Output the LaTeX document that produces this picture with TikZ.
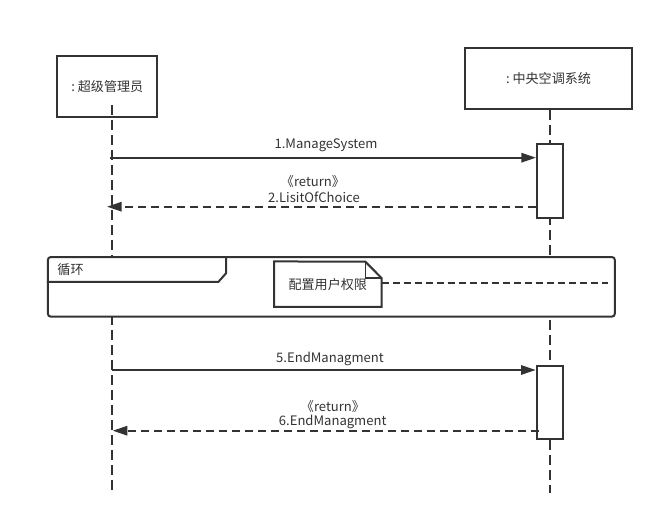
\documentclass[tikz,border=0pt]{standalone}
\usepackage{fontspec}
\setmainfont{Noto Sans CJK SC}
\usetikzlibrary{arrows.meta}
\definecolor{lc}{HTML}{333333}
\begin{document}
\begin{tikzpicture}[x=0.75pt,y=-0.75pt,
  every node/.style={font=\fontsize{9.8pt}{11pt}\selectfont, text=lc},
  objbox/.style={draw=lc, fill=white, line width=1.5pt, inner sep=0pt},
  actbox/.style={draw=lc, fill=white, line width=1.5pt, inner sep=0pt, minimum width=19.5pt, minimum height=55pt},
  lifeline/.style={draw=lc, line width=1.5pt, dash pattern=on 7.5pt off 3.75pt},
  msg/.style={draw=lc, line width=1.5pt, -{Triangle[length=11pt,width=7pt]}},
  retmsg/.style={draw=lc, line width=1.5pt, dash pattern=on 6pt off 3.75pt, -{Triangle[length=11pt,width=7pt]}},
  notelink/.style={draw=lc, line width=1.5pt, dash pattern=on 5.25pt off 3pt},
  framebox/.style={draw=lc, fill=white, line width=1.5pt, rounded corners=2.25pt},
  lbl/.style={inner sep=0pt}
]
\useasboundingbox (0,0) rectangle (664,530);

% objects
\node[objbox, minimum width=75pt, minimum height=45.75pt] (admin) at (107.3,86.2) {:\ 超级管理员};
\node[objbox, minimum width=125.25pt, minimum height=46pt] (sys) at (548.5,78.3) {:\ 中央空调系统};

% lifelines
\coordinate (adminTop) at (111.7,105);
\coordinate (adminBot) at (111.7,493);
\coordinate (sysTop) at (549.7,110);
\coordinate (sysBot) at (549.7,493);
\draw[lifeline] (adminTop) -- (adminBot);
\draw[lifeline] (sysTop) -- (sysBot);

% activation boxes
\node[actbox] (act1) at (550,181) {};
\node[actbox] (act2) at (549.7,402.2) {};

% message 1
\coordinate (m1s) at (109.5,157.7);
\draw[msg] (m1s) -- (act1.west |- m1s);
\node[lbl] (l1) at (326,145) {1.ManageSystem};

% message 2
\coordinate (m2e) at (107,206.7);
\draw[retmsg] (act1.west |- m2e) -- (m2e);
\node[lbl] (l2a) at (313,181.5) {《return》};
\node[lbl] (l2b) at (314,197) {2.LisitOfChoice};

% loop frame
\node[framebox, minimum width=425.25pt, minimum height=44.75pt, inner sep=0pt] (loop) at (331.35,286.85) {};
\draw[draw=lc, line width=1.5pt] (loop.west |- 0,282) -- (218.3,282) -- (226,273.3) -- (226,257);
\node[lbl] (looplbl) at (70.5,269.3) {循环};

% note
\node[inner sep=0pt, minimum width=80.25pt, minimum height=33.75pt] (note) at (327.8,284.2) {};
\draw[draw=lc, fill=white, line width=1.5pt] (note.south west) -- (note.north west) -- (365.3,261.7) -- (note.east |- 0,278) -- (note.south east) -- cycle;
\draw[draw=lc, line width=1pt] (365.3,261.7) -- (365.3,278) -- (note.east |- 0,278);
\node[lbl] (notetext) at (note.center) {配置用户权限};
\coordinate (noteEnd) at (607.7,282.7);
\draw[notelink] (note.east |- noteEnd) -- (noteEnd);

% message 5
\coordinate (m5s) at (111.7,370);
\draw[msg] (m5s) -- (act2.west |- m5s);
\node[lbl] (l5) at (330,359) {5.EndManagment};

% message 6
\coordinate (m6e) at (112.7,430.7);
\draw[retmsg] ([xshift=2.5pt]act2.west |- m6e) -- (m6e);
\node[lbl] (l6a) at (333,406.7) {《return》};
\node[lbl] (l6b) at (332.7,421.7) {6.EndManagment};
\end{tikzpicture}
\end{document}
